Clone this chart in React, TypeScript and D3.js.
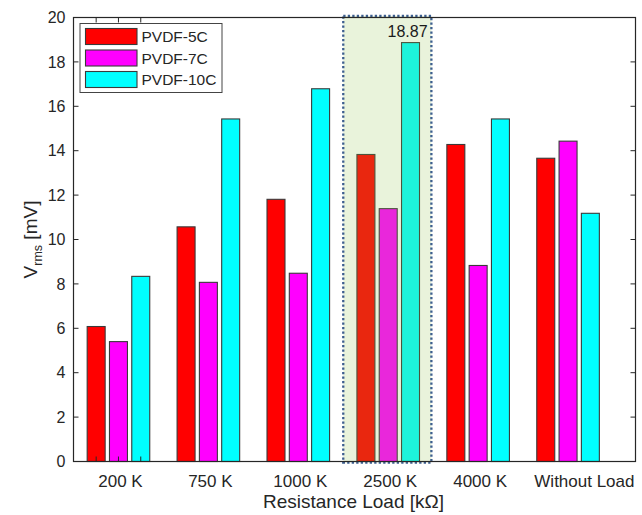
import React from "react";
import * as d3 from "d3";

const categories = ["200 K", "750 K", "1000 K", "2500 K", "4000 K", "Without Load"];
const seriesNames = ["PVDF-5C", "PVDF-7C", "PVDF-10C"];
const pvdf5C = [6.08, 10.57, 11.81, 13.83, 14.28, 13.66];
const pvdf7C = [5.4, 8.07, 8.48, 11.39, 8.83, 14.43];
const pvdf10C = [8.34, 15.43, 16.79, 18.87, 15.43, 11.18];
const seriesColors = ["#ff0000", "#ff00ff", "#00ffff"];
const yTicks = [0, 2, 4, 6, 8, 10, 12, 14, 16, 18, 20];
const highlightIndex = 3;
const highlightLabel = "18.87";

const W = 642;
const H = 515;
const left = 73.5;
const right = 635.5;
const top = 17.5;
const bottom = 461.5;
const ink = "#262626";
const font = "'Liberation Sans', Arial, Helvetica, sans-serif";

export default function App() {
  const series = [pvdf5C, pvdf7C, pvdf10C];
  const x = d3.scaleLinear().domain([0.5, 6.75]).range([left, right]);
  const y = d3.scaleLinear().domain([0, 20]).range([bottom, top]);
  const pitch = 0.248;
  const barW = 0.2;
  const offsets = [-pitch, 0, pitch];
  const w = x(barW) - x(0);

  const hx0 = x(highlightIndex + 1 - 0.5);
  const hx1 = x(highlightIndex + 1 + 0.48);

  return (
    <div style={{ position: "absolute", left: 0, top: 0 }}>
      <svg width={W} height={H} style={{ display: "block", background: "#fff" }} fontFamily={font}>
        {/* bars */}
        {series.map((vals, si) =>
          vals.map((v, ci) => {
            const cx = x(ci + 1 + offsets[si]);
            return (
              <rect
                key={`b${si}-${ci}`}
                x={cx - w / 2}
                y={y(v)}
                width={w}
                height={y(0) - y(v)}
                fill={seriesColors[si]}
                stroke="#3a3a3a"
                strokeWidth={1.1}
              />
            );
          })
        )}

        {/* highlighted group */}
        <rect
          x={hx0}
          y={top - 1.5}
          width={hx1 - hx0}
          height={bottom - top + 2.5}
          fill="rgb(146,197,75)"
          fillOpacity={0.2}
          stroke="#3d5f8e"
          strokeWidth={2.3}
          strokeDasharray="2.3 2.2"
        />
        <text
          x={x(highlightIndex + 1 + offsets[2]) - 3}
          y={y(pvdf10C[highlightIndex]) - 6}
          textAnchor="middle"
          fontSize={16}
          fill="#1a1a1a"
        >
          {highlightLabel}
        </text>

        {/* axes box */}
        <rect x={left} y={top} width={right - left} height={bottom - top} fill="none" stroke={ink} strokeWidth={1.2} />

        {/* y ticks */}
        {yTicks.map((t) => (
          <g key={`yt${t}`}>
            <line x1={left} x2={left + 5} y1={y(t)} y2={y(t)} stroke={ink} />
            <line x1={right - 5} x2={right} y1={y(t)} y2={y(t)} stroke={ink} />
            <text x={left - 8} y={y(t)} dy="0.35em" textAnchor="end" fontSize={16} fill={ink}>
              {t}
            </text>
          </g>
        ))}

        {/* x ticks at the first group's bar positions */}
        {offsets.map((o, i) => (
          <g key={`xt${i}`}>
            <line x1={x(1 + o)} x2={x(1 + o)} y1={bottom} y2={bottom - 5} stroke={ink} />
            <line x1={x(1 + o)} x2={x(1 + o)} y1={top} y2={top + 5} stroke={ink} />
          </g>
        ))}

        {/* category labels */}
        {categories.map((c, i) => {
          const cx = x(i + 1) + 2;
          const last = i === categories.length - 1;
          return (
            <text
              key={`c${i}`}
              x={last ? right - 1 : cx}
              y={bottom + 25}
              textAnchor={last ? "end" : "middle"}
              fontSize={17}
              fill={ink}
            >
              {c}
            </text>
          );
        })}

        {/* axis titles */}
        <text x={(left + right) / 2 - 1} y={bottom + 46} textAnchor="middle" fontSize={19} fill={ink}>
          Resistance Load [kΩ]
        </text>
        <text transform={`translate(37, ${(top + bottom) / 2}) rotate(-90)`} textAnchor="middle" fontSize={19} fill={ink}>
          <tspan>V</tspan>
          <tspan fontSize={12.5} dy={5}>rms</tspan>
          <tspan dy={-5}> [mV]</tspan>
        </text>

        {/* legend */}
        <g>
          <rect x={80} y={23.5} width={142} height={69} fill="#fff" stroke="#444" strokeWidth={1} />
          {seriesNames.map((n, i) => (
            <g key={`l${i}`} transform={`translate(0, ${28.5 + i * 21.5})`}>
              <rect x={85.5} y={0} width={51.5} height={16} fill={seriesColors[i]} stroke="#3a3a3a" strokeWidth={1.1} />
              <text x={141.5} y={8} dy="0.36em" fontSize={15.5} fill={ink}>
                {n}
              </text>
            </g>
          ))}
        </g>
      </svg>
    </div>
  );
}
